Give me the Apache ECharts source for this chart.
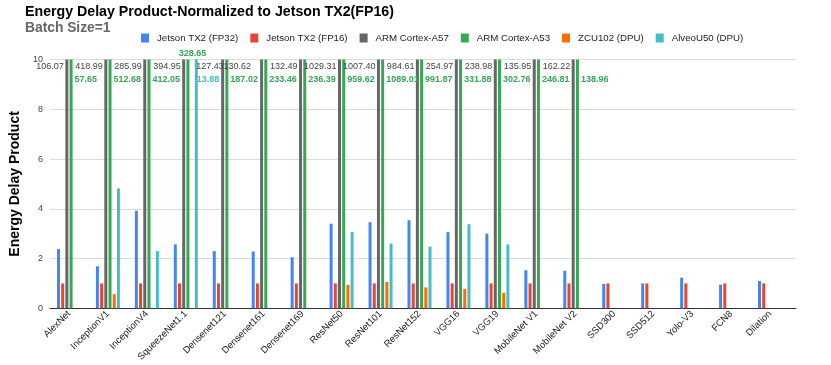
<!DOCTYPE html>
<html>
<head>
<meta charset="utf-8">
<script src="https://cdn.jsdelivr.net/npm/echarts@6/dist/echarts.min.js"></script>
<style>
  html, body { margin: 0; padding: 0; background: #fff; }
  #chart { width: 831px; height: 365px; }
</style>
</head>
<body>
<div id="chart"></div>
<script>
// categories + series values (normalized EDP, Jetson TX2 FP16 = 1)
var categories = ['AlexNet', 'InceptionV1', 'InceptionV4', 'SqueezeNet1.1', 'Densenet121', 'Densenet161',
  'Densenet169', 'ResNet50', 'ResNet101', 'ResNet152', 'VGG16', 'VGG19', 'MobileNet V1', 'MobileNet V2',
  'SSD300', 'SSD512', 'Yolo-V3', 'FCN8', 'Dilation'];
var seriesNames = ['Jetson TX2 (FP32)', 'Jetson TX2 (FP16)', 'ARM Cortex-A57', 'ARM Cortex-A53', 'ZCU102 (DPU)', 'AlveoU50 (DPU)'];

var tx2Fp32 = [2.38, 1.69, 3.92, 2.57, 2.30, 2.28, 2.05, 3.40, 3.46, 3.54, 3.06, 3.00, 1.53, 1.51, 0.98, 1.00, 1.23, 0.95, 1.10];
var tx2Fp16 = [1, 1, 1, 1, 1, 1, 1, 1, 1, 1, 1, 1, 1, 1, 1, 1, 1, 1, 1];
var cortexA57 = [106.07, 418.99, 285.99, 394.95, 127.43, 130.62, 132.49, 1029.31, 1007.40, 984.61, 254.97, 238.98, 135.95, 162.22, null, null, null, null, null];
var cortexA53 = [57.65, 512.68, 412.05, 328.65, 187.02, 233.46, 236.39, 959.62, 1089.01, 991.87, 331.88, 302.76, 246.81, 138.96, null, null, null, null, null];
var zcu102 = [null, 0.57, null, null, null, null, null, 0.94, 1.06, 0.84, 0.78, 0.62, null, null, null, null, null, null, null];
var alveoU50 = [null, 4.82, 2.30, 13.88, null, null, null, 3.07, 2.60, 2.48, 3.38, 2.57, null, null, null, null, null, null, null];

var yTicks = [0, 2, 4, 6, 8, 10];

var colors = ['#4285F4', '#EA4335', '#666666', '#34A853', '#FF6D01', '#46BDC6'];
var font = 'Liberation Sans, Arial, sans-serif';
var yMax = yTicks[yTicks.length - 1];

var chart = echarts.init(document.getElementById('chart'), null, { renderer: 'canvas' });

// labels only for bars running past the top of the axis
function overLabel(p) {
  return p.value > yMax ? p.value.toFixed(2) : '';
}

// a few labels were moved by the original chart to dodge neighbours
var labelNudge = {
  'SqueezeNet1.1': { green: { position: [6, -1], align: 'center', verticalAlign: 'bottom' } },
  'Densenet121': { gray: { position: [2.5, 3] } },
  'Densenet161': { gray: { position: [-9, 3] } }
};

function withNudge(values, key) {
  return values.map(function (v, i) {
    var n = labelNudge[categories[i]];
    if (n && n[key]) return { value: v, label: n[key] };
    return v;
  });
}

var seriesData = [tx2Fp32, tx2Fp16, withNudge(cortexA57, 'gray'), withNudge(cortexA53, 'green'), zcu102, alveoU50];

var series = seriesData.map(function (d, i) {
  var s = {
    name: seriesNames[i],
    type: 'bar',
    xAxisIndex: 1,
    yAxisIndex: 1,
    data: d,
    barWidth: 3,
    barGap: '40%',
    itemStyle: { color: colors[i] },
    label: { show: false }
  };
  if (i === 2) {
    s.label = { show: true, formatter: overLabel, position: [-1.5, 3], align: 'right', verticalAlign: 'top',
      color: '#444', fontSize: 9, fontFamily: font };
  } else if (i === 3) {
    s.label = { show: true, formatter: overLabel, position: [5, 16], align: 'left', verticalAlign: 'top',
      color: '#34A853', fontSize: 9, fontWeight: 'bold', fontFamily: font };
  } else if (i === 5) {
    s.label = { show: true, formatter: overLabel, position: [2, 16], align: 'left', verticalAlign: 'top',
      color: '#46BDC6', fontSize: 9, fontWeight: 'bold', fontFamily: font };
  }
  return s;
});

var option = {
  animation: false,
  color: colors,
  textStyle: { fontFamily: font },
  title: [
    { text: 'Energy Delay Product-Normalized to Jetson TX2(FP16)', left: 25, top: 5, padding: 0,
      textStyle: { fontSize: 14.2, fontWeight: 'bold', color: '#000', fontFamily: font } },
    { text: 'Batch Size=1', left: 25, top: 21, padding: 0,
      textStyle: { fontSize: 13.8, fontWeight: 'bold', color: '#666', fontFamily: font } }
  ],
  legend: {
    data: seriesNames,
    left: 141,
    top: 33,
    padding: 0,
    icon: 'rect',
    itemWidth: 8,
    itemHeight: 9,
    itemGap: 12,
    textStyle: { fontSize: 9.7, color: '#222', fontFamily: font, padding: [0, 0, 0, 3] }
  },
  grid: [
    // grid for axis line / gridlines
    { left: 42, right: 35, top: 59.5, bottom: 56.7 },
    // grid for the bars
    { left: 49.5, right: 41.5, top: 59.5, bottom: 56.7 }
  ],
  xAxis: [
    { type: 'value', gridIndex: 0, min: 0, max: 1,
      axisLine: { show: true, lineStyle: { color: '#333', width: 1 } },
      axisTick: { show: false }, axisLabel: { show: false }, splitLine: { show: false } },
    { type: 'category', gridIndex: 1, data: categories,
      axisLine: { show: false }, axisTick: { show: false },
      axisLabel: { interval: 0, rotate: 45, margin: 4, fontSize: 9.5, color: '#222', fontFamily: font } }
  ],
  yAxis: [
    { type: 'value', gridIndex: 0, min: 0, max: yMax, interval: 2,
      name: 'Energy Delay Product', nameLocation: 'middle', nameGap: 22,
      nameTextStyle: { fontSize: 14, fontWeight: 'bold', color: '#000', fontFamily: font },
      axisLine: { show: false }, axisTick: { show: false },
      axisLabel: { margin: 7, fontSize: 9, color: '#444', fontFamily: font },
      splitLine: { lineStyle: { color: '#dcdcdc', width: 1 } } },
    { type: 'value', gridIndex: 1, min: 0, max: yMax, show: false, splitLine: { show: false } }
  ],
  series: series
};

chart.setOption(option);
</script>
</body>
</html>
